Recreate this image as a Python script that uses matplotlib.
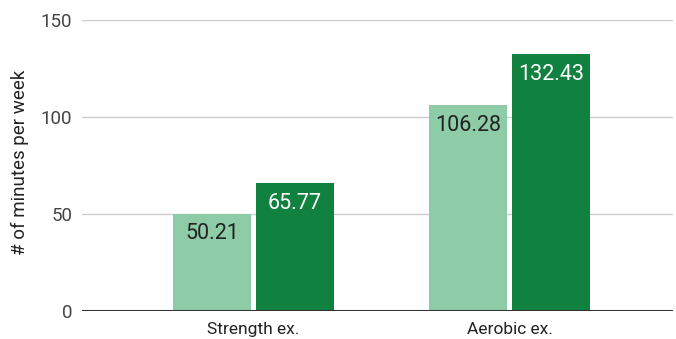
import matplotlib
matplotlib.use("Agg")
import matplotlib.pyplot as plt
import numpy as np

categories = ["Strength ex.", "Aerobic ex."]
series_a = [50.21, 106.28]
series_b = [65.77, 132.43]
yticks = [0, 50, 100, 150]

plt.rcParams['font.family'] = ['Roboto', 'DejaVu Sans']

fig = plt.figure(figsize=(6.76, 3.39), dpi=100)
ax = fig.add_axes([82/676, 28/339, 591/676, 291/339])

x = np.arange(len(categories))
w = 0.305
off = 0.162
light = "#8ecba7"
dark = "#118140"
ba = ax.bar(x - off, series_a, w, color=light, zorder=3)
bb = ax.bar(x + off, series_b, w, color=dark, zorder=3)

for rect, v in zip(ba, series_a):
    ax.annotate(f"{v:.2f}", (rect.get_x() + rect.get_width()/2, v), xytext=(0, -7),
                textcoords="offset points", ha="center", va="top", fontsize=15.5, color="#222222", zorder=4)
for rect, v in zip(bb, series_b):
    ax.annotate(f"{v:.2f}", (rect.get_x() + rect.get_width()/2, v), xytext=(0, -7),
                textcoords="offset points", ha="center", va="top", fontsize=15.5, color="white", zorder=4)

ax.set_xlim(-0.67, 1.639)
ax.set_ylim(0, 150)
ax.set_yticks(yticks)
ax.set_yticklabels([str(t) for t in yticks], fontsize=13.5, color="#444444")
ax.set_xticks(x)
ax.set_xticklabels(categories, fontsize=12.5, color="#222222")
ax.tick_params(axis="both", length=0)
ax.tick_params(axis="y", pad=7)
ax.tick_params(axis="x", pad=8)
for s in ax.spines.values():
    s.set_visible(False)
ax.yaxis.grid(True, color="#cccccc", linewidth=1, zorder=0)
ax.axhline(0, color="#333333", linewidth=1.5, zorder=5)
ax.set_ylabel("# of minutes per week", fontsize=13.5, color="#222222")
ax.yaxis.set_label_coords(-0.09, 0.51)

fig.savefig("out.png", dpi=100)
